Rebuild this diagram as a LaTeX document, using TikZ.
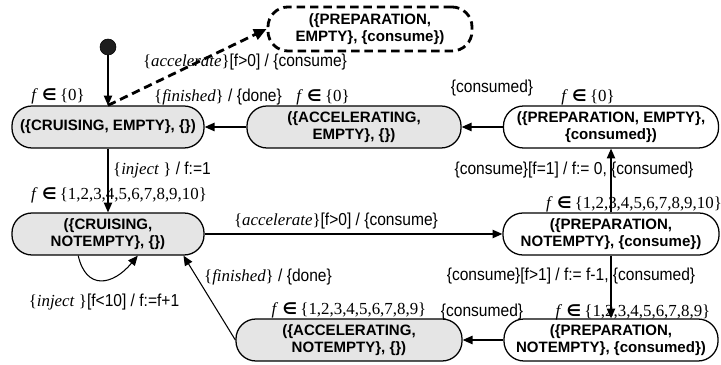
\documentclass[tikz,border=0pt]{standalone}
\usepackage{fontspec}
\setmainfont{Liberation Serif}
\setsansfont{Liberation Sans}
\newfontfamily\symfont{DejaVu Sans}
\newfontfamily\narrowsans{Liberation Sans}[FakeStretch=0.9]
\usetikzlibrary{arrows.meta}

\definecolor{stategray}{RGB}{229,229,229}
\definecolor{dotgray}{RGB}{30,30,30}

% fonts used in the chart
\newcommand{\statefont}{\sffamily\bfseries\fontsize{10.7}{12}\selectfont}
\newcommand{\lblsans}{\narrowsans\fontsize{12.3}{13}\selectfont}
\newcommand{\lblserif}{\rmfamily\fontsize{12}{13}\selectfont}
% an event name in braces, and a set annotation for the counter f
\newcommand{\ev}[1]{{\lblserif\{\textit{#1}\}}}
\newcommand{\fset}[1]{{\lblserif\textit{f}\hspace{0.25em}{\symfont\bfseries\fontsize{11.5}{13}\selectfont ∈}\hspace{0.2em}\{#1\}}}

\begin{document}
\begin{tikzpicture}[x=0.025cm,y=-0.025cm,
  state/.style={draw, line width=0.9pt, rounded corners=0.5cm,
    minimum height=1.05cm, inner sep=0pt, align=center, font=\statefont},
  busy/.style={state, fill=stategray},
  idle/.style={state, fill=white},
  edge/.style={line width=0.75pt, -{Triangle[length=7pt,width=6pt]}},
  lbl/.style={inner sep=0pt, font=\lblsans},
]
\useasboundingbox (0,0) rectangle (721,365);

% states
\node[busy, minimum width=4.8cm]   (CE) at (108,127) {(\{CRUISING, EMPTY\}, \{\})};
\node[busy, minimum width=5.35cm]  (AE) at (354,127) {(\{ACCELERATING,\\ EMPTY\}, \{\})};
\node[idle, minimum width=5.375cm] (PE) at (611,127) {(\{PREPARATION, EMPTY\},\\ \{consumed\})};
\node[busy, minimum width=4.8cm]   (CN) at (108,234) {(\{CRUISING,\\ NOTEMPTY\}, \{\})};
\node[idle, minimum width=5.4cm]   (PN) at (611,234) {(\{PREPARATION,\\ NOTEMPTY\}, \{consume\})};
\node[busy, minimum width=5.65cm]  (AN) at (349,340) {(\{ACCELERATING,\\ NOTEMPTY\}, \{\})};
\node[idle, minimum width=5.35cm]  (PC) at (611,340) {(\{PREPARATION,\\ NOTEMPTY\}, \{consumed\})};
\node[idle, minimum width=5.1cm, minimum height=1.1cm, line width=2pt,
  dash pattern=on 6pt off 3.5pt] (DN) at (370,29) {(\{PREPARATION,\\ EMPTY\}, \{consume\})};

% initial pseudo-state
\node[circle, draw, fill=dotgray, minimum size=0.4cm, inner sep=0pt] (init) at (108,47) {};

% transitions
\draw[edge] (init.south) -- (CE.north);
\draw[line width=2pt, dash pattern=on 6pt off 3.5pt,
  -{Triangle[length=9pt,width=8pt]}] (CE.north) -- (DN.west);
\draw[edge] (AE.west) -- (CE.east);
\draw[edge] (PE.west) -- (AE.east);
\draw[edge] (CE.south) -- (CN.north);
\draw[edge] (CN.east) -- (PN.west);
\draw[edge] (PN.north) -- (PE.south);
\draw[edge] (PN.south) -- (PC.north);
\draw[edge] (PC.west) -- (AN.east);
\draw[edge] (AN.west) -- (CN.-16);
\draw[edge] (CN.-144) .. controls +(8,35) and +(-25,30) .. (CN.-36);

% annotations
\node[lbl] (fCE) at (58,96)  {\fset{0}};
\node[lbl] (fAE) at (323,97) {\fset{0}};
\node[lbl] (fPE) at (588,97) {\fset{0}};
\node[lbl] (fCN) at (119,195) {\fset{1,2,3,4,5,6,7,8,9,10}};
\node[lbl] (fPN) at (634,204) {\fset{1,2,3,4,5,6,7,8,9,10}};
\node[lbl] (fAN) at (349,310) {\fset{1,2,3,4,5,6,7,8,9}};
\node[lbl] (fPC) at (633,312) {\fset{1,2,3,4,5,6,7,8,9}};

\node[lbl] (tAcc1) at (245,62)  {\ev{accelerate}[f>0] / \{consume\}};
\node[lbl] (tFin1) at (218,97)  {\ev{finished} / \{done\}};
\node[lbl] (tCsd1) at (492,88)  {\{consumed\}};
\node[lbl] (tInj1) at (162,170) {{\lblserif\{\textit{inject}\ \}} / f:=1};
\node[lbl] (tAcc2) at (336,221) {\ev{accelerate}[f>0] / \{consume\}};
\node[lbl] (tCon1) at (574,170) {\{consume\}[f=1] / f:= 0, \{consumed\}};
\node[lbl] (tCon2) at (571,276) {\{consume\}[f>1] / f:= f-1, \{consumed\}};
\node[lbl] (tFin2) at (268,277) {\ev{finished} / \{done\}};
\node[lbl] (tCsd2) at (482,312) {\{consumed\}};
\node[lbl] (tInj2) at (104,302) {{\lblserif\{\textit{inject}\ \}}[f<10] / f:=f+1};
\end{tikzpicture}
\end{document}
